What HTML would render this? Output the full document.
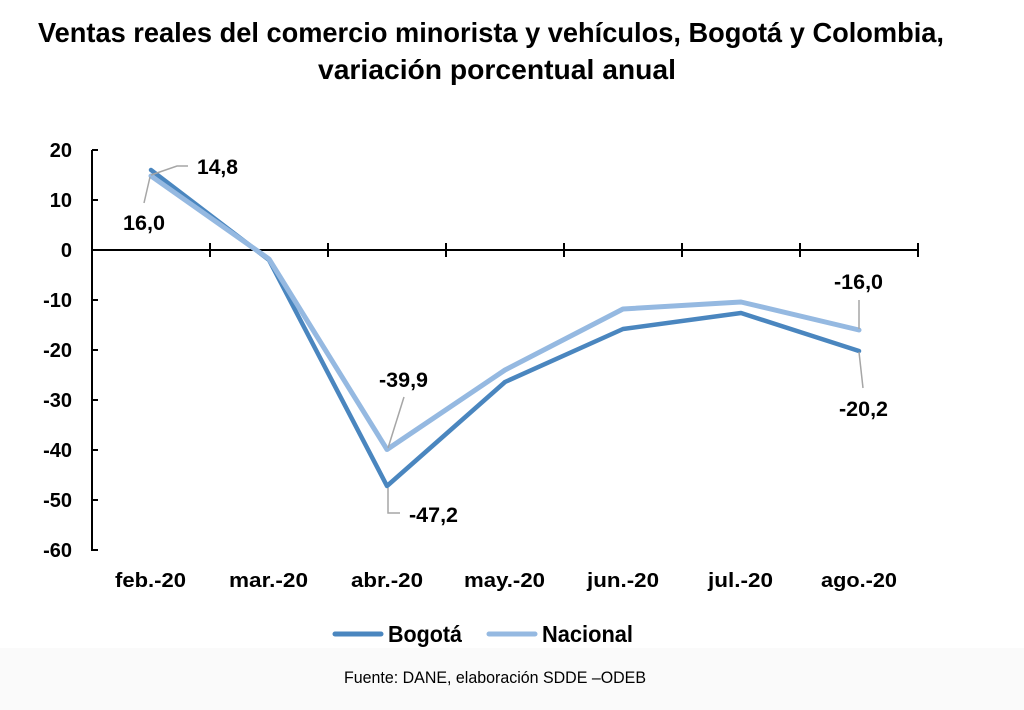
<!DOCTYPE html>
<html>
<head>
<meta charset="utf-8">
<style>
html,body{margin:0;padding:0;background:#fff;}
svg{display:block;}
text{font-family:"Liberation Sans",Arial,sans-serif;fill:#000;}
.b{font-weight:bold;}
</style>
</head>
<body>
<svg width="1024" height="710" viewBox="0 0 1024 710" xmlns="http://www.w3.org/2000/svg">
<rect x="0" y="0" width="1024" height="710" fill="#ffffff"/>
<rect x="0" y="648" width="1024" height="62" fill="#fafafa"/>

<!-- Title -->
<text class="b" x="38" y="42" font-size="28" textLength="906" lengthAdjust="spacingAndGlyphs">Ventas reales del comercio minorista y vehículos, Bogotá y Colombia,</text>
<text class="b" x="318" y="79" font-size="28" textLength="358" lengthAdjust="spacingAndGlyphs">variación porcentual anual</text>

<!-- Y axis -->
<g stroke="#000" stroke-width="2" fill="none">
<line x1="92" y1="150" x2="92" y2="551"/>
<line x1="92" y1="150" x2="98" y2="150"/>
<line x1="92" y1="200" x2="98" y2="200"/>
<line x1="92" y1="300" x2="98" y2="300"/>
<line x1="92" y1="350" x2="98" y2="350"/>
<line x1="92" y1="400" x2="98" y2="400"/>
<line x1="92" y1="450" x2="98" y2="450"/>
<line x1="92" y1="500" x2="98" y2="500"/>
<line x1="92" y1="550" x2="98" y2="550"/>
<!-- X axis -->
<line x1="92" y1="250" x2="918" y2="250"/>
<line x1="210" y1="243" x2="210" y2="257"/>
<line x1="328" y1="243" x2="328" y2="257"/>
<line x1="446" y1="243" x2="446" y2="257"/>
<line x1="564" y1="243" x2="564" y2="257"/>
<line x1="682" y1="243" x2="682" y2="257"/>
<line x1="800" y1="243" x2="800" y2="257"/>
<line x1="918" y1="243" x2="918" y2="257"/>
</g>

<!-- Y labels -->
<g class="b" font-size="20" text-anchor="end">
<text x="72" y="157">20</text>
<text x="72" y="207">10</text>
<text x="72" y="257">0</text>
<text x="72" y="307">-10</text>
<text x="72" y="357">-20</text>
<text x="72" y="407">-30</text>
<text x="72" y="457">-40</text>
<text x="72" y="507">-50</text>
<text x="72" y="557">-60</text>
</g>

<!-- X labels -->
<g class="b" font-size="20">
<text x="115" y="587" textLength="71" lengthAdjust="spacingAndGlyphs">feb.-20</text>
<text x="229" y="587" textLength="79" lengthAdjust="spacingAndGlyphs">mar.-20</text>
<text x="351" y="587" textLength="72" lengthAdjust="spacingAndGlyphs">abr.-20</text>
<text x="464" y="587" textLength="81" lengthAdjust="spacingAndGlyphs">may.-20</text>
<text x="587" y="587" textLength="72" lengthAdjust="spacingAndGlyphs">jun.-20</text>
<text x="708" y="587" textLength="65" lengthAdjust="spacingAndGlyphs">jul.-20</text>
<text x="821" y="587" textLength="76" lengthAdjust="spacingAndGlyphs">ago.-20</text>
</g>

<!-- Series -->
<polyline fill="none" stroke="#4A86BF" stroke-width="4.5" stroke-linejoin="round" stroke-linecap="round"
 points="151,170 269,260 387,486 505,382 623,329 741,313 859,351"/>
<polyline fill="none" stroke="#95B9E1" stroke-width="5" stroke-linejoin="round" stroke-linecap="round"
 points="151,176 269,259 387,449.5 505,370 623,309 741,302 859,330"/>

<!-- Leader lines -->
<g stroke="#a6a6a6" stroke-width="1.5" fill="none">
<polyline points="151,175 177,166 188,166"/>
<polyline points="150,177 144,203"/>
<polyline points="388,448 404,397"/>
<polyline points="388,488 388,513 400,513"/>
<polyline points="859,300 859,329"/>
<polyline points="859,352 863,388"/>
</g>

<!-- Data labels -->
<g class="b" font-size="21">
<text x="197" y="174" textLength="41" lengthAdjust="spacingAndGlyphs">14,8</text>
<text x="123" y="230" textLength="42" lengthAdjust="spacingAndGlyphs">16,0</text>
<text x="379" y="387" textLength="49" lengthAdjust="spacingAndGlyphs">-39,9</text>
<text x="409" y="522" textLength="49" lengthAdjust="spacingAndGlyphs">-47,2</text>
<text x="834" y="289" textLength="49" lengthAdjust="spacingAndGlyphs">-16,0</text>
<text x="839" y="416" textLength="49" lengthAdjust="spacingAndGlyphs">-20,2</text>
</g>

<!-- Legend -->
<line x1="335" y1="634" x2="381" y2="634" stroke="#4A86BF" stroke-width="5" stroke-linecap="round"/>
<text class="b" x="388" y="642" font-size="23" textLength="74" lengthAdjust="spacingAndGlyphs">Bogotá</text>
<line x1="489" y1="634" x2="535" y2="634" stroke="#95B9E1" stroke-width="5" stroke-linecap="round"/>
<text class="b" x="542" y="642" font-size="23" textLength="91" lengthAdjust="spacingAndGlyphs">Nacional</text>

<!-- Source -->
<text x="344" y="683" font-size="17" textLength="302" lengthAdjust="spacingAndGlyphs">Fuente: DANE, elaboración SDDE –ODEB</text>
</svg>
</body>
</html>
